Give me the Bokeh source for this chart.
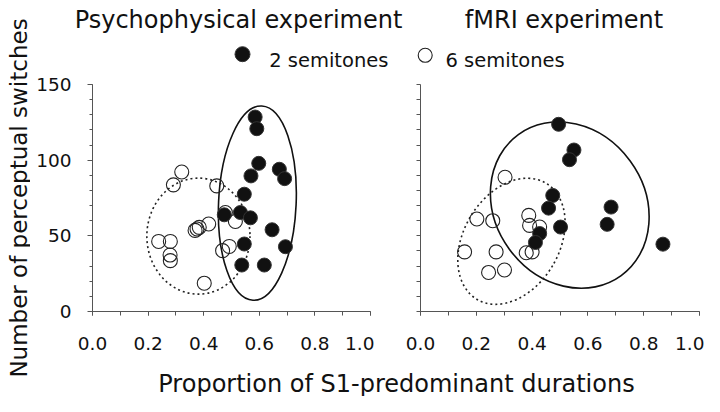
import math
from bokeh.plotting import figure
from bokeh.layouts import column, row
from bokeh.models import Range1d, FixedTicker, Label
from bokeh.embed import file_html
from bokeh.resources import INLINE

# ---------------- data ----------------
titles = ["Psychophysical experiment", "fMRI experiment"]
legend_labels = ["2 semitones", "6 semitones"]
x_title = "Proportion of S1-predominant durations"
y_title = "Number of perceptual switches"

x_ticks = [0.0, 0.2, 0.4, 0.6, 0.8, 1.0]
x_minor = [0.0, 0.1, 0.2, 0.3, 0.4, 0.5, 0.6, 0.7, 0.8, 0.9, 1.0]
y_ticks = [0, 50, 100, 150]
y_minor = [0, 10, 20, 30, 40, 50, 60, 70, 80, 90, 100, 110, 120, 130, 140, 150]

# Psychophysical experiment
psy_2st_x = [0.585, 0.591, 0.598, 0.570, 0.672, 0.691, 0.546, 0.474, 0.532, 0.568, 0.646, 0.546, 0.694, 0.537, 0.618]
psy_2st_y = [128.5, 120.8, 97.9, 89.6, 94.0, 87.8, 77.5, 63.9, 65.4, 61.9, 54.0, 44.6, 42.8, 30.7, 30.7]
psy_6st_x = [0.321, 0.291, 0.447, 0.478, 0.514, 0.418, 0.384, 0.376, 0.369, 0.238, 0.280, 0.279, 0.280, 0.468, 0.492, 0.402]
psy_6st_y = [92.2, 83.7, 83.0, 65.4, 59.5, 57.8, 55.6, 54.5, 53.6, 46.3, 46.3, 37.3, 33.6, 40.2, 43.0, 18.7]

# fMRI experiment
mri_2st_x = [0.495, 0.550, 0.534, 0.474, 0.459, 0.683, 0.502, 0.669, 0.427, 0.412, 0.869]
mri_2st_y = [123.7, 106.7, 100.3, 76.7, 68.3, 69.0, 55.8, 57.6, 51.5, 45.6, 44.5]
mri_6st_x = [0.303, 0.202, 0.259, 0.388, 0.391, 0.427, 0.158, 0.271, 0.379, 0.400, 0.244, 0.301]
mri_6st_y = [88.7, 61.1, 60.0, 63.5, 56.9, 55.8, 39.4, 39.4, 38.8, 39.4, 25.8, 27.4]

# ellipses: [2 semitones (solid), 6 semitones (dotted)]
psy_ell_x = [0.593, 0.381]
psy_ell_y = [71.6, 49.8]
psy_ell_w = [0.279, 0.371]
psy_ell_h = [128.5, 76.7]
psy_ell_a = [-0.045, 0.0]

mri_ell_x = [0.535, 0.326]
mri_ell_y = [70.3, 46.4]
mri_ell_w = [0.536, 0.343]
mri_ell_h = [115.4, 89.3]
mri_ell_a = [0.63, -0.534]

FONT = "DejaVu Sans"
AXIS_COLOR = "#555555"
TEXT_COLOR = "#111111"

LBL_W = 30          # width of the y-title strip
TOP_H = 73
PANEL_TOP = 11
FRAME_H = 227
PANEL_BOTTOM = 45
PANEL_H = PANEL_TOP + FRAME_H + PANEL_BOTTOM
BOT_H = 396 - TOP_H - PANEL_H
TOTAL_H = TOP_H + PANEL_H + BOT_H
MAIN_W = 704 - LBL_W


def make_panel(width, border_left, border_right, fx, fy, ox, oy, ex, ey, ew, eh, ea, labels):
    p = figure(width=width, height=PANEL_H, x_range=Range1d(0, 1), y_range=Range1d(0, 150),
               output_backend="svg", toolbar_location=None,
               min_border_left=border_left, min_border_right=border_right,
               min_border_top=PANEL_TOP, min_border_bottom=PANEL_BOTTOM)
    p.outline_line_color = None
    p.grid.visible = False

    xa = p.xaxis[0]
    xa.ticker = FixedTicker(ticks=x_ticks, minor_ticks=x_minor)
    xa.axis_line_color = AXIS_COLOR
    xa.major_tick_line_color = AXIS_COLOR
    xa.minor_tick_line_color = AXIS_COLOR
    xa.major_tick_in = 0
    xa.major_tick_out = 4
    xa.minor_tick_in = 0
    xa.minor_tick_out = 4
    xa.major_label_standoff = 21
    xa.major_label_text_font = FONT
    xa.major_label_text_font_size = "18.5px"
    xa.major_label_text_color = TEXT_COLOR
    xa.major_label_overrides = {t: f"{t:.1f}" for t in x_ticks}

    ya = p.yaxis[0]
    ya.axis_line_color = AXIS_COLOR
    ya.major_tick_line_color = AXIS_COLOR
    ya.minor_tick_line_color = AXIS_COLOR
    ya.major_tick_in = 0
    ya.minor_tick_in = 0
    if labels:
        ya.ticker = FixedTicker(ticks=y_ticks, minor_ticks=y_minor)
        ya.major_tick_out = 5
        ya.minor_tick_out = 3
        ya.major_label_standoff = 16
        ya.major_label_text_font = FONT
        ya.major_label_text_font_size = "18.5px"
        ya.major_label_text_color = TEXT_COLOR
    else:
        ya.ticker = FixedTicker(ticks=[], minor_ticks=y_minor)
        ya.minor_tick_out = 4
        ya.major_label_standoff = 0

    p.ellipse(x=ex[0], y=ey[0], width=ew[0], height=eh[0], angle=ea[0],
              fill_color=None, line_color="#111111", line_width=1.6)
    p.ellipse(x=ex[1], y=ey[1], width=ew[1], height=eh[1], angle=ea[1],
              fill_color=None, line_color="#222222", line_width=1.6, line_dash="2 3")
    p.scatter(ox, oy, marker="circle", size=14, fill_color=None,
              line_color="#222222", line_width=1.1)
    p.scatter(fx, fy, marker="circle", size=14, fill_color="#111111",
              line_color="#333333", line_width=1)
    return p


p1 = make_panel(344, 62, 4, psy_2st_x, psy_2st_y, psy_6st_x, psy_6st_y,
                psy_ell_x, psy_ell_y, psy_ell_w, psy_ell_h, psy_ell_a, True)
p2 = make_panel(330, 46, 5, mri_2st_x, mri_2st_y, mri_6st_x, mri_6st_y,
                mri_ell_x, mri_ell_y, mri_ell_w, mri_ell_h, mri_ell_a, False)


def blank(width, height):
    f = figure(width=width, height=height, x_range=Range1d(0, width), y_range=Range1d(height, 0),
               output_backend="svg", toolbar_location=None, min_border=0)
    f.axis.visible = False
    f.grid.visible = False
    f.outline_line_color = None
    return f


top = blank(MAIN_W, TOP_H)
top.add_layout(Label(x=208, y=19, text=titles[0], text_font=FONT, text_font_size="24px",
                     text_color=TEXT_COLOR, text_baseline="alphabetic", text_align="center"))
top.add_layout(Label(x=533.5, y=19, text=titles[1], text_font=FONT, text_font_size="24px",
                     text_color=TEXT_COLOR, text_baseline="alphabetic", text_align="center"))
top.scatter([212], [53.7], marker="circle", size=15, fill_color="#111111", line_color="#333333")
top.scatter([394.7], [54.8], marker="circle", size=14, fill_color=None, line_color="#222222",
            line_width=1.1)
top.add_layout(Label(x=238.7, y=60.3, text=legend_labels[0], text_font=FONT, text_font_size="19.5px",
                     text_color=TEXT_COLOR, text_baseline="alphabetic"))
top.add_layout(Label(x=415, y=60.3, text=legend_labels[1], text_font=FONT, text_font_size="19.5px",
                     text_color=TEXT_COLOR, text_baseline="alphabetic"))

bottom = blank(MAIN_W, BOT_H)
bottom.add_layout(Label(x=366, y=BOT_H - 13, text=x_title, text_font=FONT, text_font_size="24px",
                        text_color=TEXT_COLOR, text_baseline="alphabetic", text_align="center"))

ylab = blank(LBL_W, TOTAL_H)
ylab.add_layout(Label(x=18, y=TOP_H + PANEL_TOP + FRAME_H / 2, text=y_title, text_font=FONT,
                      text_font_size="23px", text_color=TEXT_COLOR, text_baseline="alphabetic",
                      text_align="center", angle=math.pi / 2))

layout = row(ylab, column(top, row(p1, p2), bottom))

open("out.html", "w").write(file_html(layout, INLINE))
